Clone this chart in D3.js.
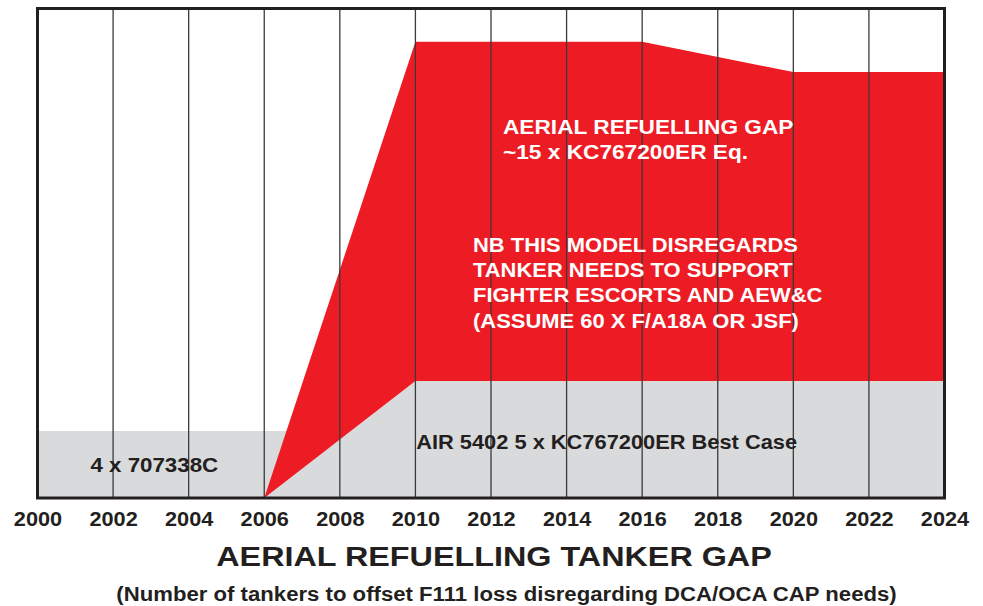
<!DOCTYPE html>
<html>
<head>
    <meta charset="UTF-8">
    <title>Aerial refuelling tanker gap</title>
    <script src="https://d3js.org/d3.v7.min.js"></script>
    <style>
        body { margin: 0; background: #fff; }
        text { font-family: "Liberation Sans", Arial, Helvetica, sans-serif; font-weight: bold; }
    </style>
</head>
<body>
    <svg id="chart" width="983" height="606"></svg>

    <script>
        // values (tanker equivalents)
        let years707 = [2000, 2008];
        let fleet707 = [2.97, 2.97];

        let years = [2006, 2010, 2016, 2020, 2024];
        let kc767 = [0, 5.19, 5.19, 5.19, 5.19];
        let required = [0, 20.23, 20.23, 18.88, 18.88];

        let tickYears = d3.range(2000, 2025, 2);

        let svg = d3.select("svg#chart");
        let margin = { top: 8.5, left: 37.5, right: 38.5, bottom: 108 };
        let width = +svg.attr("width");
        let height = +svg.attr("height");

        const xScale = d3.scaleLinear().domain([2000, 2024]).range([margin.left, width - margin.right]);
        const yScale = d3.scaleLinear().domain([0, 21.7]).range([height - margin.bottom, margin.top]);

        let dark = "#231f20";

        // grey: existing 707 fleet
        let old = years707.map((y, i) => ({ year: y, v: fleet707[i] }));
        svg.append("path")
            .datum(old)
            .attr("fill", "#d9dadc")
            .attr("d", d3.area().x(d => xScale(d.year)).y0(yScale(0)).y1(d => yScale(d.v)));

        let rows = years.map((y, i) => ({ year: y, kc: kc767[i], req: required[i] }));

        // grey: KC767 best case
        svg.append("path")
            .datum(rows)
            .attr("fill", "#d9dadc")
            .attr("d", d3.area().x(d => xScale(d.year)).y0(yScale(0)).y1(d => yScale(d.kc)));

        // red: the gap
        svg.append("path")
            .datum(rows)
            .attr("fill", "#ed1c24")
            .attr("d", d3.area().x(d => xScale(d.year)).y0(d => yScale(d.kc)).y1(d => yScale(d.req)));

        // vertical gridlines
        svg.append("g")
            .selectAll("line")
            .data(tickYears.slice(1, -1))
            .join("line")
            .attr("x1", d => xScale(d)).attr("x2", d => xScale(d))
            .attr("y1", yScale.range()[1]).attr("y2", yScale.range()[0])
            .attr("stroke", "#3a3a3a")
            .attr("stroke-width", 1.3);

        // frame
        svg.append("rect")
            .attr("x", xScale.range()[0]).attr("y", yScale.range()[1])
            .attr("width", xScale.range()[1] - xScale.range()[0])
            .attr("height", yScale.range()[0] - yScale.range()[1])
            .attr("fill", "none")
            .attr("stroke", dark)
            .attr("stroke-width", 3);

        // x axis labels
        let bottomAxis = d3.axisBottom(xScale)
            .tickValues(tickYears)
            .tickFormat(d3.format("d"))
            .tickSize(0);
        let axis = svg.append("g")
            .attr("transform", "translate(0," + yScale(0) + ")")
            .call(bottomAxis);
        axis.select(".domain").remove();
        axis.selectAll("text")
            .attr("y", 0).attr("dy", null)
            .attr("transform", "translate(0,28) scale(1.06,1)")
            .attr("fill", dark)
            .style("font-size", "20.5px");

        // the lettering in the original is a bit wider than Liberation Sans, so stretch it
        function label(x, y, lines, size, color, lh, sx, anchor) {
            let t = svg.append("text")
                .attr("transform", `translate(${x},${y}) scale(${sx},1)`)
                .attr("text-anchor", anchor || "start")
                .attr("fill", color)
                .style("font-size", size + "px");
            lines.forEach((s, i) => {
                t.append("tspan").attr("x", 0).attr("dy", i == 0 ? 0 : lh).text(s);
            });
        }

        label(xScale(2001.4), 472, ["4 x 707338C"], 19.5, dark, 0, 1.145);
        label(xScale(2010.02), 449, ["AIR 5402 5 x KC767200ER Best Case"], 19.5, dark, 0, 1.12);
        label(503, 134, ["AERIAL REFUELLING GAP", "~15 x KC767200ER Eq."], 21, "#fff", 25, 1.08);
        label(473, 251.5, ["NB THIS MODEL DISREGARDS", "TANKER NEEDS TO SUPPORT",
            "FIGHTER ESCORTS AND AEW&C", "(ASSUME 60 X F/A18A OR JSF)"], 21, "#fff", 25.5, 1.045);

        // titles
        label(494, 566, ["AERIAL REFUELLING TANKER GAP"], 28, dark, 0, 1.155, "middle");
        label(506.5, 601, ["(Number of tankers to offset F111 loss disregarding DCA/OCA CAP needs)"], 19.5, dark, 0, 1.137, "middle");
    </script>
</body>
</html>
